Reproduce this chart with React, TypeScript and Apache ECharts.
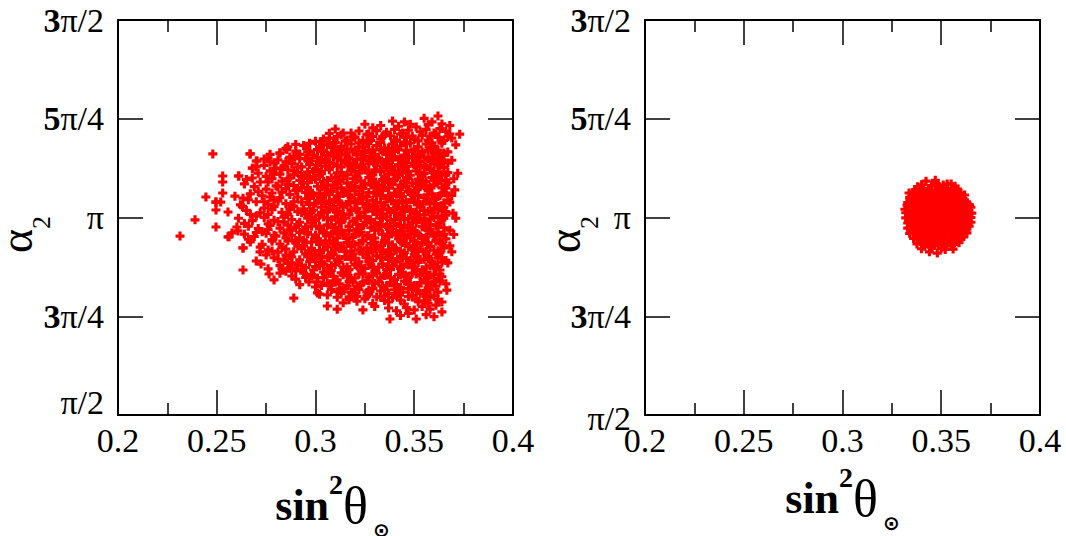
import React, { useEffect, useRef } from "react";
import * as echarts from "echarts";

const xTickLabels = ["0.2", "0.25", "0.3", "0.35", "0.4"];
const xTickValues = [0.2, 0.25, 0.3, 0.35, 0.4];
const yTickValues = [0.5, 0.75, 1, 1.25, 1.5];
const yTickLabels = ["π/2", "3π/4", "π", "5π/4", "3π/2"];

// left panel: sin^2(theta) vs alpha_2 (alpha_2 in units of pi) — outer cloud
const leftPoints: number[][] = [
  [.362,1.257],[.339,1.244],[.345,1.242],[.359,1.242],[.364,1.237],[.351,1.229],[.329,1.227],[.310,1.224],[.355,1.251],[.348,1.236],[.333,1.233],[.342,1.231],[.368,1.233],[.357,1.235],[.325,1.236],
  [.314,1.214],[.318,1.214],[.322,1.219],[.327,1.212],[.331,1.22],[.336,1.216],[.340,1.223],[.344,1.214],[.347,1.221],[.353,1.217],[.356,1.223],[.360,1.214],[.363,1.225],[.366,1.218],[.368,1.211],[.373,1.211],[.307,1.213],
  [.300,1.193],[.304,1.199],[.307,1.201],[.311,1.205],[.316,1.196],[.320,1.203],[.324,1.195],[.329,1.205],[.333,1.198],[.338,1.207],[.341,1.196],[.346,1.203],[.350,1.198],[.354,1.208],[.357,1.196],[.362,1.203],[.365,1.195],[.369,1.201],[.335,1.209],[.358,1.206],
  [.286,1.179],[.294,1.182],[.297,1.188],[.302,1.177],[.306,1.184],[.310,1.19],[.313,1.18],[.318,1.186],[.322,1.178],[.326,1.188],[.331,1.182],[.335,1.176],[.339,1.186],[.343,1.181],[.348,1.188],[.352,1.179],[.356,1.186],[.360,1.18],[.364,1.188],[.371,1.184],[.327,1.192],[.345,1.191],
  [.277,1.16],[.282,1.163],[.290,1.168],[.296,1.166],[.299,1.158],[.303,1.167],[.308,1.163],[.312,1.17],[.315,1.159],[.319,1.166],[.323,1.161],[.327,1.17],[.330,1.16],[.334,1.168],[.338,1.162],[.342,1.171],[.345,1.158],[.349,1.166],[.353,1.16],[.357,1.17],[.360,1.163],[.363,1.156],[.367,1.166],[.2855,1.172],[.2956,1.174],
  [.270,1.143],[.267,1.161],[.276,1.151],[.281,1.146],[.287,1.153],[.292,1.149],[.298,1.143],[.301,1.152],[.305,1.147],[.309,1.155],[.313,1.145],[.317,1.151],[.321,1.147],[.325,1.154],[.329,1.144],[.332,1.151],[.336,1.146],[.340,1.154],[.344,1.144],[.347,1.151],[.351,1.147],[.355,1.153],[.358,1.143],[.362,1.149],[.369,1.145],
  [.268,1.125],[.274,1.132],[.279,1.138],[.284,1.13],[.288,1.137],[.293,1.128],[.297,1.134],[.302,1.139],[.305,1.13],[.309,1.136],[.313,1.128],[.316,1.138],[.320,1.132],[.324,1.127],[.327,1.136],[.331,1.131],[.335,1.139],[.338,1.128],[.342,1.134],[.346,1.129],[.349,1.138],[.353,1.132],[.356,1.127],[.360,1.136],[.363,1.13],[.367,1.138],
  [.253,1.105],[.261,1.105],[.271,1.112],[.277,1.118],[.282,1.11],[.286,1.121],[.291,1.114],[.295,1.107],[.299,1.117],[.303,1.111],[.307,1.121],[.311,1.113],[.314,1.107],[.318,1.118],[.322,1.112],[.325,1.121],[.329,1.108],[.333,1.116],[.337,1.11],[.340,1.12],[.344,1.113],[.348,1.107],[.351,1.118],[.355,1.111],[.358,1.121],[.362,1.114],[.366,1.108],[.372,1.112],
  [.253,1.09],[.265,1.096],[.272,1.09],[.278,1.098],[.283,1.092],[.287,1.1],[.292,1.094],[.296,1.088],[.300,1.097],[.304,1.091],[.308,1.1],[.312,1.093],[.316,1.087],[.319,1.098],[.323,1.092],[.327,1.101],[.330,1.089],[.334,1.096],[.338,1.09],[.341,1.1],[.345,1.093],[.349,1.087],[.352,1.097],[.356,1.091],[.359,1.101],[.363,1.094],[.367,1.088],[.370,1.098],
  [.269,1.078],[.275,1.072],[.280,1.08],[.285,1.073],[.289,1.081],[.293,1.075],[.297,1.069],[.301,1.079],[.305,1.072],[.309,1.082],[.313,1.075],[.317,1.069],[.320,1.079],[.324,1.073],[.328,1.082],[.331,1.071],[.335,1.077],[.339,1.083],[.342,1.072],[.346,1.079],[.350,1.069],[.353,1.078],[.357,1.072],[.360,1.082],[.364,1.075],[.3705,1.07],
  [.2445,1.052],[.253,1.062],[.2592,1.054],[.2633,1.049],[.267,1.06],[.273,1.055],[.278,1.062],[.282,1.05],[.287,1.058],[.291,1.052],[.295,1.063],[.299,1.056],[.303,1.05],[.307,1.06],[.311,1.053],[.315,1.063],[.318,1.051],[.322,1.058],[.326,1.052],[.330,1.062],[.333,1.055],[.337,1.049],[.341,1.059],[.344,1.053],[.348,1.063],[.352,1.056],[.355,1.05],[.359,1.06],[.362,1.053],[.366,1.062],[.369,1.056],
  [.2496,1.039],[.262,1.032],[.270,1.04],[.276,1.034],[.281,1.042],[.285,1.035],[.289,1.029],[.293,1.039],[.297,1.033],[.301,1.042],[.305,1.035],[.309,1.029],[.312,1.039],[.316,1.032],[.320,1.041],[.324,1.035],[.327,1.029],[.331,1.038],[.335,1.032],[.339,1.042],[.342,1.036],[.346,1.029],[.350,1.039],[.353,1.033],[.357,1.042],[.361,1.035],[.364,1.029],[.368,1.039],
  [.2496,1.019],[.2557,1.014],[.265,1.018],[.272,1.012],[.278,1.02],[.283,1.013],[.287,1.021],[.291,1.015],[.295,1.009],[.299,1.019],[.303,1.012],[.307,1.021],[.311,1.015],[.314,1.009],[.318,1.019],[.322,1.013],[.326,1.022],[.329,1.016],[.333,1.009],[.337,1.019],[.340,1.012],[.344,1.021],[.348,1.015],[.351,1.009],[.355,1.018],[.359,1.012],[.362,1.021],[.366,1.015],[.3696,1.011],
  [.239,.994],[.261,.998],[.268,.992],[.274,1.0],[.279,.993],[.284,1.001],[.288,.995],[.292,.988],[.296,.998],[.300,.992],[.304,1.001],[.308,.994],[.312,.988],[.315,.998],[.319,.991],[.323,1.0],[.327,.994],[.330,.988],[.334,.998],[.338,.992],[.342,1.001],[.345,.995],[.349,.988],[.353,.997],[.356,.991],[.360,1.0],[.364,.994],[.371,.998],
  [.2496,.976],[.2602,.976],[.2607,.966],[.266,.978],[.271,.972],[.277,.98],[.282,.973],[.286,.981],[.290,.975],[.294,.968],[.298,.978],[.302,.972],[.306,.981],[.309,.974],[.313,.968],[.317,.978],[.321,.971],[.324,.98],[.328,.974],[.332,.968],[.336,.977],[.339,.971],[.343,.98],[.347,.974],[.350,.967],[.354,.977],[.358,.971],[.361,.98],[.365,.974],[.368,.968],
  [.2314,.953],[.2577,.961],[.2562,.951],[.264,.958],[.269,.952],[.275,.96],[.280,.953],[.284,.961],[.288,.955],[.292,.948],[.296,.958],[.300,.952],[.304,.961],[.307,.954],[.311,.948],[.315,.958],[.319,.951],[.322,.96],[.326,.954],[.330,.948],[.334,.957],[.337,.951],[.341,.96],[.345,.954],[.348,.948],[.352,.957],[.356,.951],[.359,.96],[.363,.954],[.370,.957],
  [.267,.938],[.273,.932],[.278,.94],[.282,.933],[.286,.941],[.290,.935],[.294,.928],[.298,.938],[.302,.932],[.305,.941],[.309,.934],[.313,.928],[.317,.938],[.320,.931],[.324,.94],[.328,.934],[.331,.928],[.335,.937],[.339,.931],[.343,.94],[.346,.934],[.350,.928],[.354,.937],[.357,.931],[.361,.94],[.364,.934],[.368,.928],
  [.2633,.923],[.2719,.913],[.276,.918],[.281,.912],[.285,.92],[.289,.913],[.293,.921],[.297,.915],[.300,.908],[.304,.918],[.308,.912],[.312,.921],[.315,.914],[.319,.908],[.323,.918],[.327,.911],[.330,.92],[.334,.914],[.338,.908],[.341,.917],[.345,.911],[.349,.92],[.352,.914],[.356,.908],[.360,.917],[.363,.911],[.369,.913],
  [.279,.898],[.284,.892],[.288,.9],[.292,.893],[.296,.901],[.300,.895],[.303,.888],[.307,.898],[.311,.892],[.315,.901],[.318,.894],[.322,.888],[.326,.898],[.329,.891],[.333,.9],[.337,.894],[.340,.888],[.344,.897],[.348,.891],[.351,.9],[.355,.894],[.359,.888],[.362,.897],[.366,.891],
  [.2633,.867],[.2724,.882],[.276,.870],[.2765,.857],[.282,.878],[.287,.872],[.291,.88],[.295,.873],[.299,.867],[.302,.878],[.306,.872],[.310,.881],[.314,.874],[.317,.868],[.321,.878],[.325,.871],[.328,.88],[.332,.874],[.336,.868],[.339,.877],[.343,.871],[.347,.88],[.350,.874],[.354,.868],[.358,.877],[.361,.871],[.367,.885],
  [.279,.842],[.282,.859],[.288,.852],[.294,.859],[.298,.853],[.301,.847],[.305,.857],[.309,.851],[.313,.86],[.316,.853],[.320,.847],[.324,.857],[.327,.85],[.331,.859],[.335,.853],[.338,.847],[.342,.856],[.346,.85],[.349,.859],[.353,.853],[.357,.847],[.360,.856],[.364,.85],
  [.2967,.837],[.3008,.837],[.306,.834],[.303,.828],[.309,.84],[.312,.832],[.316,.826],[.319,.836],[.323,.83],[.327,.839],[.330,.833],[.334,.827],[.338,.836],[.341,.83],[.345,.839],[.348,.833],[.352,.827],[.356,.836],[.359,.83],[.363,.839],[.366,.832],
  [.301,.809],[.302,.806],[.308,.818],[.311,.812],[.315,.82],[.318,.81],[.322,.817],[.326,.811],[.329,.82],[.333,.814],[.337,.808],[.340,.817],[.344,.811],[.347,.82],[.351,.814],[.355,.808],[.358,.817],[.362,.811],[.3665,.816],
  [.289,.796],[.311,.798],[.317,.792],[.321,.8],[.325,.794],[.331,.799],[.335,.79],[.339,.797],[.343,.791],[.347,.8],[.351,.794],[.355,.789],[.358,.798],[.362,.792],[.364,.786],
  [.306,.776],[.311,.768],[.324,.766],[.330,.775],[.337,.771],[.341,.764],[.346,.772],[.350,.766],[.354,.775],[.358,.768],[.361,.778],[.364,.761],
  [.3377,.743],[.351,.743],[.343,.752],[.356,.754],[.347,.757],[.360,.749],
  [.248,1.161],[.2668,1.161],[.2704,1.143],[.2683,1.125],[.2612,1.105],[.2633,.923],[.2557,.951],[.282,1.163],[.277,1.141],[.2496,1.039],[.252,1.039]
];

// left panel — left flank of the cloud
const leftFlankPoints: number[][] = [
  [.264,1.085],[.268,1.1],[.271,1.066],[.266,1.045],[.263,1.028],[.267,1.008],[.264,.985],[.270,.962],[.266,.945],[.272,.925],
  [.275,.905],[.270,.89],[.278,.915],[.281,.895],[.285,.905],[.288,.885],[.283,.87],[.290,.865],[.276,1.09],[.279,1.11],
  [.283,1.125],[.288,1.145],[.292,1.16],[.286,1.098],[.281,1.078],[.277,1.052],[.274,1.04],[.279,1.028],[.276,1.008],[.281,.99],
  [.276,.97],[.279,.955],[.289,1.118],[.293,1.104],[.291,1.074],[.289,1.04],[.293,1.012],[.292,.962],[.290,.942],[.293,.878],
  [.295,.848],[.292,.83],[.285,1.175],[.290,1.185],[.274,1.148],[.270,1.128]
];

// left panel — dense core, second pass
const leftCorePoints: number[][] = [
  [.313,1.209],[.319,1.204],[.326,1.21],[.334,1.205],[.343,1.211],[.349,1.206],[.361,1.21],[.367,1.205],
  [.301,1.172],[.309,1.177],[.316,1.173],[.324,1.179],[.329,1.171],[.337,1.176],[.341,1.178],[.350,1.172],[.358,1.177],[.362,1.171],
  [.289,1.155],[.306,1.158],[.311,1.153],[.321,1.159],[.328,1.155],[.336,1.16],[.347,1.154],[.352,1.158],[.359,1.153],[.365,1.157],
  [.285,1.141],[.296,1.145],[.307,1.139],[.315,1.143],[.319,1.138],[.327,1.144],[.334,1.14],[.339,1.146],[.345,1.139],[.353,1.142],[.360,1.145],[.364,1.14],
  [.280,1.124],[.291,1.128],[.300,1.122],[.307,1.126],[.318,1.123],[.323,1.127],[.330,1.121],[.336,1.126],[.344,1.122],[.351,1.128],[.358,1.123],[.365,1.127],
  [.275,1.104],[.289,1.108],[.297,1.102],[.302,1.106],[.310,1.101],[.316,1.108],[.321,1.103],[.328,1.106],[.335,1.102],[.342,1.108],[.346,1.101],[.354,1.106],[.361,1.103],[.364,1.108],
  [.286,1.084],[.294,1.088],[.306,1.082],[.311,1.087],[.318,1.081],[.325,1.086],[.332,1.083],[.337,1.088],[.343,1.082],[.351,1.086],[.355,1.081],[.362,1.087],[.366,1.083],
  [.283,1.064],[.290,1.068],[.302,1.062],[.308,1.066],[.314,1.061],[.320,1.067],[.327,1.063],[.334,1.068],[.340,1.062],[.347,1.066],[.350,1.061],[.357,1.067],[.365,1.064],
  [.279,1.044],[.296,1.048],[.304,1.042],[.310,1.046],[.317,1.041],[.323,1.047],[.329,1.043],[.336,1.048],[.344,1.042],[.349,1.046],[.356,1.041],[.360,1.047],[.367,1.044],
  [.274,1.024],[.288,1.028],[.294,1.022],[.303,1.026],[.309,1.021],[.314,1.027],[.321,1.023],[.330,1.028],[.334,1.022],[.341,1.026],[.348,1.021],[.353,1.027],[.360,1.023],[.365,1.026],
  [.270,1.004],[.286,1.008],[.297,1.002],[.302,1.006],[.310,1.001],[.317,1.007],[.325,1.003],[.331,1.008],[.336,1.002],[.343,1.006],[.350,1.001],[.355,1.007],[.362,1.003],[.366,1.006],
  [.276,.984],[.284,.988],[.291,.982],[.298,.986],[.306,.981],[.313,.987],[.321,.983],[.326,.988],[.333,.982],[.340,.986],[.347,.981],[.351,.987],[.358,.983],[.363,.986],
  [.273,.964],[.287,.968],[.296,.962],[.304,.966],[.311,.961],[.317,.967],[.323,.963],[.330,.968],[.338,.962],[.344,.966],[.350,.961],[.357,.967],[.362,.963],
  [.278,.944],[.285,.948],[.294,.942],[.301,.946],[.309,.941],[.316,.947],[.324,.943],[.329,.948],[.335,.942],[.342,.946],[.350,.941],[.355,.947],[.361,.943],[.366,.946],
  [.283,.924],[.291,.928],[.298,.922],[.306,.926],[.314,.921],[.318,.927],[.326,.923],[.333,.928],[.340,.922],[.347,.926],[.353,.921],[.358,.927],[.365,.923],
  [.287,.904],[.295,.908],[.303,.902],[.309,.906],[.316,.901],[.324,.907],[.331,.903],[.336,.908],[.343,.902],[.350,.906],[.357,.901],[.361,.907],
  [.286,.884],[.297,.888],[.304,.882],[.312,.886],[.320,.881],[.327,.887],[.334,.883],[.341,.888],[.346,.882],[.352,.886],[.360,.881],[.364,.887],
  [.285,.864],[.293,.868],[.304,.862],[.308,.866],[.316,.861],[.323,.867],[.330,.863],[.338,.868],[.344,.862],[.351,.866],[.356,.861],[.363,.867],
  [.290,.844],[.304,.848],[.311,.842],[.318,.846],[.326,.841],[.333,.847],[.340,.843],[.347,.848],[.355,.842],[.362,.846],
  [.300,.824],[.307,.828],[.314,.822],[.321,.826],[.329,.821],[.336,.827],[.343,.823],[.350,.828],[.357,.822],[.361,.826],
  [.306,.804],[.313,.808],[.320,.802],[.327,.806],[.335,.801],[.342,.807],[.349,.803],[.353,.808],[.360,.802],
  [.314,.784],[.321,.788],[.329,.782],[.337,.786],[.345,.781],[.352,.787],[.357,.783]
];

// left panel — dense core, third pass
const leftInnerPoints: number[][] = [
  [.303,1.192],[.309,1.188],[.315,1.193],[.322,1.189],[.328,1.195],[.333,1.19],[.340,1.193],[.346,1.187],[.352,1.194],[.359,1.189],[.364,1.193],
  [.297,1.168],[.304,1.171],[.312,1.166],[.320,1.17],[.325,1.165],[.333,1.172],[.339,1.167],[.346,1.171],[.354,1.166],[.361,1.17],[.365,1.163],
  [.295,1.15],[.303,1.147],[.311,1.151],[.317,1.148],[.324,1.149],[.331,1.146],[.338,1.151],[.343,1.148],[.350,1.152],[.357,1.149],[.364,1.146],
  [.301,1.133],[.311,1.131],[.317,1.135],[.323,1.132],[.330,1.136],[.337,1.133],[.343,1.13],[.350,1.134],[.355,1.131],[.362,1.135],
  [.296,1.115],[.303,1.117],[.313,1.114],[.320,1.116],[.327,1.113],[.333,1.118],[.339,1.115],[.347,1.117],[.353,1.113],[.360,1.116],[.367,1.114],
  [.298,1.096],[.306,1.094],[.314,1.098],[.321,1.095],[.329,1.097],[.335,1.093],[.340,1.096],[.347,1.098],[.354,1.094],[.360,1.096],[.366,1.093],
  [.296,1.076],[.303,1.078],[.311,1.074],[.318,1.077],[.323,1.075],[.330,1.078],[.337,1.074],[.344,1.077],[.352,1.075],[.358,1.077],[.366,1.074],
  [.298,1.056],[.305,1.058],[.311,1.055],[.317,1.057],[.324,1.054],[.331,1.058],[.337,1.056],[.343,1.058],[.350,1.054],[.357,1.057],[.363,1.055],
  [.300,1.036],[.307,1.038],[.313,1.035],[.320,1.037],[.326,1.034],[.333,1.037],[.340,1.035],[.346,1.038],[.352,1.034],[.358,1.036],[.365,1.037],
  [.298,1.016],[.306,1.018],[.312,1.015],[.318,1.017],[.325,1.014],[.331,1.018],[.338,1.015],[.345,1.017],[.351,1.014],[.357,1.016],[.364,1.018],
  [.300,.996],[.306,.998],[.313,.995],[.321,.997],[.328,.994],[.333,.998],[.340,.995],[.347,.997],[.352,.994],[.358,.996],[.365,.998],
  [.295,.976],[.302,.978],[.310,.975],[.317,.977],[.323,.974],[.330,.978],[.337,.975],[.343,.977],[.349,.974],[.355,.976],[.362,.978],
  [.300,.956],[.308,.958],[.314,.955],[.320,.957],[.327,.954],[.334,.958],[.341,.955],[.347,.957],[.353,.954],[.360,.956],[.365,.958],
  [.295,.936],[.302,.938],[.310,.935],[.316,.937],[.322,.934],[.330,.938],[.337,.935],[.344,.937],[.351,.934],[.357,.936],[.363,.938],
  [.302,.916],[.310,.918],[.318,.915],[.322,.917],[.329,.914],[.337,.918],[.343,.915],[.350,.917],[.356,.914],[.362,.916],
  [.299,.896],[.306,.898],[.312,.895],[.320,.897],[.327,.894],[.333,.898],[.339,.895],[.346,.897],[.353,.894],[.357,.896],[.364,.898],
  [.300,.876],[.308,.878],[.316,.875],[.323,.877],[.329,.874],[.337,.878],[.343,.875],[.349,.877],[.356,.874],[.362,.876],
  [.298,.856],[.307,.858],[.314,.855],[.322,.857],[.329,.854],[.336,.858],[.343,.855],[.351,.857],[.358,.854],[.363,.856],
  [.310,.836],[.317,.838],[.324,.835],[.332,.837],[.339,.834],[.346,.838],[.353,.835],[.360,.837],
  [.313,.816],[.320,.818],[.327,.815],[.335,.817],[.342,.814],[.349,.818],[.356,.815],
  [.317,.799],[.326,.801],[.333,.798],[.341,.802],[.349,.799],[.356,.801]
];

// right panel
const rightPoints: number[][] = [
  [.3423,1.092],[.353,1.085],[.347,1.094],[.3337,1.062],
  [.338,1.078],[.341,1.074],[.345,1.081],[.349,1.076],[.353,1.073],[.357,1.079],
  [.336,1.064],[.339,1.067],[.342,1.061],[.345,1.066],[.348,1.062],[.351,1.068],[.354,1.063],[.357,1.066],[.360,1.061],
  [.334,1.051],[.337,1.048],[.34,1.054],[.343,1.05],[.346,1.053],[.349,1.049],[.352,1.055],[.355,1.05],[.358,1.053],[.361,1.048],
  [.333,1.038],[.336,1.041],[.339,1.036],[.342,1.04],[.345,1.035],[.348,1.041],[.351,1.037],[.354,1.039],[.357,1.034],[.36,1.04],[.363,1.036],
  [.3316,1.021],[.336,1.027],[.339,1.022],[.342,1.026],[.345,1.021],[.348,1.028],[.351,1.023],[.354,1.026],[.357,1.021],[.36,1.027],[.363,1.023],[.365,1.026],
  [.332,1.012],[.335,1.009],[.338,1.014],[.341,1.01],[.344,1.015],[.347,1.011],[.35,1.013],[.353,1.008],[.356,1.014],[.359,1.01],[.362,1.015],[.3655,1.011],
  [.332,.999],[.335,1.002],[.338,.997],[.341,1.001],[.344,.996],[.347,1.0],[.35,.997],[.353,1.002],[.356,.998],[.359,1.001],[.362,.996],[.365,1.0],
  [.333,.986],[.336,.989],[.339,.984],[.342,.988],[.345,.985],[.348,.989],[.351,.984],[.354,.988],[.357,.985],[.36,.989],[.363,.984],[.365,.988],
  [.333,.973],[.336,.976],[.339,.971],[.342,.975],[.345,.972],[.348,.976],[.351,.971],[.354,.975],[.357,.972],[.36,.976],[.363,.971],
  [.334,.96],[.337,.963],[.34,.958],[.343,.962],[.346,.959],[.349,.963],[.352,.958],[.355,.962],[.358,.959],[.361,.963],
  [.336,.947],[.339,.95],[.342,.945],[.345,.949],[.348,.946],[.351,.95],[.354,.945],[.357,.949],[.36,.946],[.363,.961],
  [.3377,.933],[.341,.937],[.344,.932],[.347,.936],[.35,.933],[.353,.937],[.356,.932],[.359,.936],
  [.34,.921],[.344,.913],[.348,.91],[.352,.919],[.356,.92],[.345,.925],[.35,.922],
  [.340,1.083],[.3475,1.086],[.351,1.082],[.355,1.085],
  [.337,1.071],[.3405,1.068],[.3435,1.072],[.3468,1.069],[.3502,1.071],[.3551,1.068],[.3583,1.072],
  [.3352,1.057],[.3381,1.059],[.3412,1.056],[.3443,1.058],[.3471,1.055],[.3503,1.059],[.3532,1.056],[.3563,1.058],[.3591,1.055],[.3618,1.057],
  [.3341,1.044],[.3375,1.046],[.3404,1.043],[.3436,1.045],[.3466,1.042],[.3493,1.046],[.3527,1.043],[.3556,1.045],[.3586,1.042],[.3617,1.045],
  [.3327,1.031],[.3356,1.033],[.3386,1.03],[.3414,1.032],[.3447,1.029],[.3474,1.033],[.3506,1.03],[.3534,1.032],[.3566,1.029],[.3597,1.033],[.3624,1.03],[.3643,1.032],
  [.3336,1.018],[.3367,1.02],[.3394,1.017],[.3426,1.019],[.3455,1.016],[.3484,1.02],[.3516,1.017],[.3545,1.019],[.3575,1.016],[.3604,1.02],[.3636,1.017],
  [.3334,1.005],[.3365,1.007],[.3393,1.004],[.3424,1.006],[.3457,1.003],[.3486,1.007],[.3514,1.004],[.3546,1.006],[.3574,1.003],[.3606,1.007],[.3634,1.004],
  [.3337,.992],[.3366,.994],[.3397,.991],[.3425,.993],[.3456,.99],[.3485,.994],[.3517,.991],[.3544,.993],[.3576,.99],[.3605,.994],[.3637,.991],
  [.3343,.979],[.3372,.981],[.3404,.978],[.3433,.98],[.3462,.977],[.3494,.981],[.3523,.978],[.3552,.98],[.3584,.977],[.3613,.981],[.3641,.978],
  [.3352,.966],[.3384,.968],[.3413,.965],[.3443,.967],[.3474,.964],[.3503,.968],[.3534,.965],[.3563,.967],[.3595,.964],[.3622,.968],
  [.3373,.953],[.3403,.955],[.3434,.952],[.3466,.954],[.3495,.951],[.3524,.955],[.3556,.952],[.3584,.954],[.3612,.951],
  [.3394,.94],[.3426,.942],[.3455,.939],[.3486,.941],[.3515,.938],[.3546,.942],[.3575,.939],
  [.3417,.927],[.3466,.929],[.3514,.926],[.3553,.928]
];

const SERIF = "'Liberation Serif', 'Times New Roman', serif";
const PLUS = "path://M2.6,0L5.4,0L5.4,2.6L8,2.6L8,5.4L5.4,5.4L5.4,8L2.6,8L2.6,5.4L0,5.4L0,2.6L2.6,2.6Z";

function xAxisFor(grid: number, position: "bottom" | "top", nameGap: number, namePadLeft: number) {
  const main = position === "bottom";
  return {
    type: "value",
    gridIndex: grid,
    position,
    min: 0.2,
    max: 0.4,
    interval: 0.05,
    axisLine: { show: true, onZero: false, lineStyle: { color: "#000", width: 2 } },
    axisTick: { show: true, inside: true, length: 25, lineStyle: { color: "#000", width: 1.5 } },
    minorTick: { show: true, splitNumber: 2, length: 12, lineStyle: { color: "#000", width: 1.5 } },
    splitLine: { show: false },
    minorSplitLine: { show: false },
    axisLabel: {
      show: main,
      margin: 8,
      fontFamily: SERIF,
      fontSize: 34,
      color: "#000",
      showMinLabel: true,
      showMaxLabel: true,
      formatter: (v: number) => {
        const i = xTickValues.findIndex((t) => Math.abs(t - v) < 1e-6);
        return i >= 0 ? xTickLabels[i] : "";
      },
    },
    name: main ? "{s|sin}{sup|2}{t|θ}{sub|⊙}" : "",
    nameLocation: "middle",
    nameGap,
    nameTextStyle: {
      fontFamily: SERIF,
      color: "#000",
      rich: {
        s: { fontFamily: SERIF, fontSize: 44, fontWeight: "bold", lineHeight: 70, color: "#000", padding: [0, 0, 0, namePadLeft] },
        sup: { fontFamily: SERIF, fontSize: 28, fontWeight: "bold", lineHeight: 28, verticalAlign: "top", color: "#000" },
        t: { fontFamily: SERIF, fontSize: 52, lineHeight: 70, color: "#000" },
        sub: { fontFamily: "'DejaVu Sans', sans-serif", fontSize: 20, fontWeight: "bold", lineHeight: 22, verticalAlign: "bottom", padding: [0, 0, 0, 5], color: "#000" },
      },
    },
  };
}

function yAxisFor(grid: number, position: "left" | "right", nameGap: number, lowPad: number[]) {
  const main = position === "left";
  return {
    type: "value",
    gridIndex: grid,
    position,
    min: 0.5,
    max: 1.5,
    interval: 0.25,
    axisLine: { show: true, onZero: false, lineStyle: { color: "#000", width: 2 } },
    axisTick: { show: true, inside: true, length: 25, lineStyle: { color: "#000", width: 1.5 } },
    minorTick: { show: false },
    splitLine: { show: false },
    axisLabel: {
      show: main,
      margin: 14,
      fontFamily: SERIF,
      fontSize: 34,
      color: "#000",
      showMinLabel: true,
      showMaxLabel: true,
      formatter: (v: number) => {
        const i = yTickValues.findIndex((t) => Math.abs(t - v) < 1e-6);
        if (i < 0) return "";
        const s = yTickLabels[i];
        if (i === 0) return `{lo|${s}}`;
        const m = s.match(/^(\d)(.*)$/);
        return m ? `{b|${m[1]}}{n|${m[2]}}` : `{n|${s}}`;
      },
      rich: {
        b: { fontFamily: SERIF, fontSize: 34, fontWeight: "bold", color: "#000" },
        n: { fontFamily: SERIF, fontSize: 34, color: "#000" },
        lo: { fontFamily: SERIF, fontSize: 34, color: "#000", padding: lowPad },
      },
    },
    name: main ? "{a|α}{sub|2}" : "",
    nameLocation: "middle",
    nameRotate: 90,
    nameGap,
    nameMoveOverlap: false,
    nameTextStyle: {
      fontFamily: SERIF,
      color: "#000",
      rich: {
        a: { fontFamily: SERIF, fontSize: 46, lineHeight: 76, color: "#000" },
        sub: { fontFamily: SERIF, fontSize: 26, lineHeight: 26, verticalAlign: "bottom", padding: [0, 34, 0, 0], color: "#000" },
      },
    },
  };
}

const scatterStyle = {
  type: "scatter",
  symbol: PLUS,
  symbolSize: 9,
  itemStyle: { color: "#ff0000", opacity: 1 },
  emphasis: { disabled: true },
};

export default function App() {
  const ref = useRef<HTMLDivElement>(null);
  useEffect(() => {
    if (!ref.current) return;
    const chart = echarts.init(ref.current, undefined, { renderer: "svg" });
    chart.setOption({
      animation: false,
      backgroundColor: "#fff",
      grid: [
        { left: 118, top: 20, width: 395, height: 395, containLabel: false, outerBoundsMode: "none" },
        { left: 645, top: 20, width: 395, height: 395, containLabel: false, outerBoundsMode: "none" },
      ],
      xAxis: [
        xAxisFor(0, "bottom", 55, 34),
        xAxisFor(0, "top", 0, 0),
        xAxisFor(1, "bottom", 48, 0),
        xAxisFor(1, "top", 0, 0),
      ],
      yAxis: [
        yAxisFor(0, "left", 64, [0, 0, 26, 0]),
        yAxisFor(0, "right", 0, [0, 0, 0, 0]),
        yAxisFor(1, "left", 43, [6, 0, 0, 0]),
        yAxisFor(1, "right", 0, [0, 0, 0, 0]),
      ],
      series: [
        { ...scatterStyle, xAxisIndex: 0, yAxisIndex: 0, data: leftPoints },
        { ...scatterStyle, xAxisIndex: 0, yAxisIndex: 0, data: leftFlankPoints },
        { ...scatterStyle, xAxisIndex: 0, yAxisIndex: 0, data: leftCorePoints },
        { ...scatterStyle, xAxisIndex: 0, yAxisIndex: 0, data: leftInnerPoints },
        { ...scatterStyle, xAxisIndex: 2, yAxisIndex: 2, data: rightPoints },
      ],
    });
    return () => chart.dispose();
  }, []);
  return (
    <div
      ref={ref}
      style={{ position: "absolute", left: 0, top: 0, width: 1066, height: 536, background: "#fff" }}
    />
  );
}
